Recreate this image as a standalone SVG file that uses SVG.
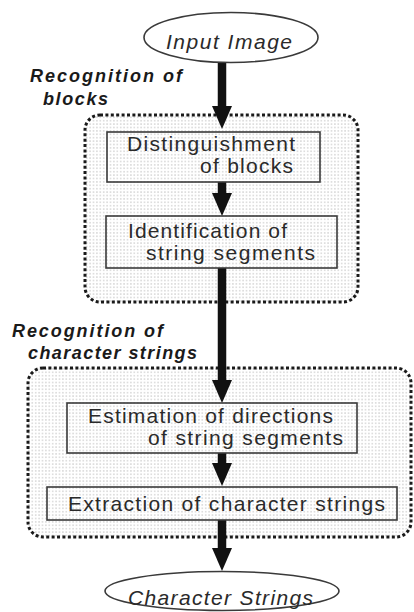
<svg xmlns="http://www.w3.org/2000/svg" width="414" height="612" viewBox="0 0 414 612">
<style>
.t{font-family:"Liberation Sans",Arial,sans-serif;fill:#2a2a2a}
.box{font-size:21px}
.term{font-size:21px;font-style:italic}
.lab{font-size:18px;font-weight:bold;font-style:italic;fill:#1a1a1a}
.blk{fill:url(#dots);stroke:#1a1a1a;stroke-width:3;stroke-dasharray:3 2.4}
.rect{fill:none;stroke:#3a3a3a;stroke-width:1.6}
.ell{fill:#fff;stroke:#3a3a3a;stroke-width:1.6}
.arr{stroke:#111;stroke-width:8.5;fill:none;marker-end:url(#ah)}
</style>
<defs>
<pattern id="dots" width="3.4" height="3.4" patternUnits="userSpaceOnUse">
<rect width="3.4" height="3.4" fill="#ffffff"/>
<circle cx="1.7" cy="1.7" r="0.7" fill="#b4b4b4"/>
</pattern>
<marker id="ah" markerUnits="userSpaceOnUse" markerWidth="23" markerHeight="20" viewBox="0 0 23 20" refX="0" refY="10" orient="auto">
<path d="M0,0 L23,10 L0,20 z" fill="#111"/>
</marker>
</defs>
<rect width="414" height="612" fill="#fff"/>
<g id="block-recognition-of-blocks">
<rect class="blk" x="85" y="115" width="273" height="187" rx="15"/>
<text class="t lab" x="30" y="82" textLength="152" lengthAdjust="spacing">Recognition of</text>
<text class="t lab" x="43" y="105" textLength="65" lengthAdjust="spacing">blocks</text>
</g>
<g id="block-recognition-of-character-strings">
<rect class="blk" x="28" y="368" width="383" height="169" rx="15"/>
<text class="t lab" x="12" y="337" textLength="151" lengthAdjust="spacing">Recognition of</text>
<text class="t lab" x="28" y="359" textLength="169" lengthAdjust="spacing">character strings</text>
</g>
<g id="connectors">
<line class="arr" x1="222" y1="62" x2="222" y2="106"/>
<line class="arr" x1="222" y1="182" x2="222" y2="193"/>
<line class="arr" x1="222" y1="268" x2="222" y2="380"/>
<line class="arr" x1="222" y1="453" x2="222" y2="463"/>
<line class="arr" x1="222" y1="520" x2="222" y2="548"/>
</g>
<g id="input-image">
<ellipse class="ell" cx="231" cy="37.5" rx="87" ry="25"/>
<text class="t term" x="166" y="49" textLength="126" lengthAdjust="spacing">Input Image</text>
</g>
<g id="distinguishment-of-blocks">
<rect class="rect" x="107" y="132" width="213" height="50"/>
<text class="t box" x="127" y="151" textLength="168" lengthAdjust="spacing">Distinguishment</text>
<text class="t box" x="200" y="173" textLength="93" lengthAdjust="spacing">of blocks</text>
</g>
<g id="identification-of-string-segments">
<rect class="rect" x="106" y="216" width="231" height="52"/>
<text class="t box" x="128" y="238" textLength="159" lengthAdjust="spacing">Identification of</text>
<text class="t box" x="146" y="260" textLength="169" lengthAdjust="spacing">string segments</text>
</g>
<g id="estimation-of-directions">
<rect class="rect" x="67" y="403" width="290" height="50"/>
<text class="t box" x="88" y="423" textLength="245" lengthAdjust="spacing">Estimation of directions</text>
<text class="t box" x="148" y="445" textLength="195" lengthAdjust="spacing">of string segments</text>
</g>
<g id="extraction-of-character-strings">
<rect class="rect" x="47" y="487" width="350" height="33"/>
<text class="t box" x="68" y="511" textLength="317" lengthAdjust="spacing">Extraction of character strings</text>
</g>
<g id="character-strings">
<ellipse class="ell" cx="222" cy="591" rx="117" ry="19.5"/>
<text class="t term" x="128" y="605" textLength="185" lengthAdjust="spacing">Character Strings</text>
</g>
</svg>
